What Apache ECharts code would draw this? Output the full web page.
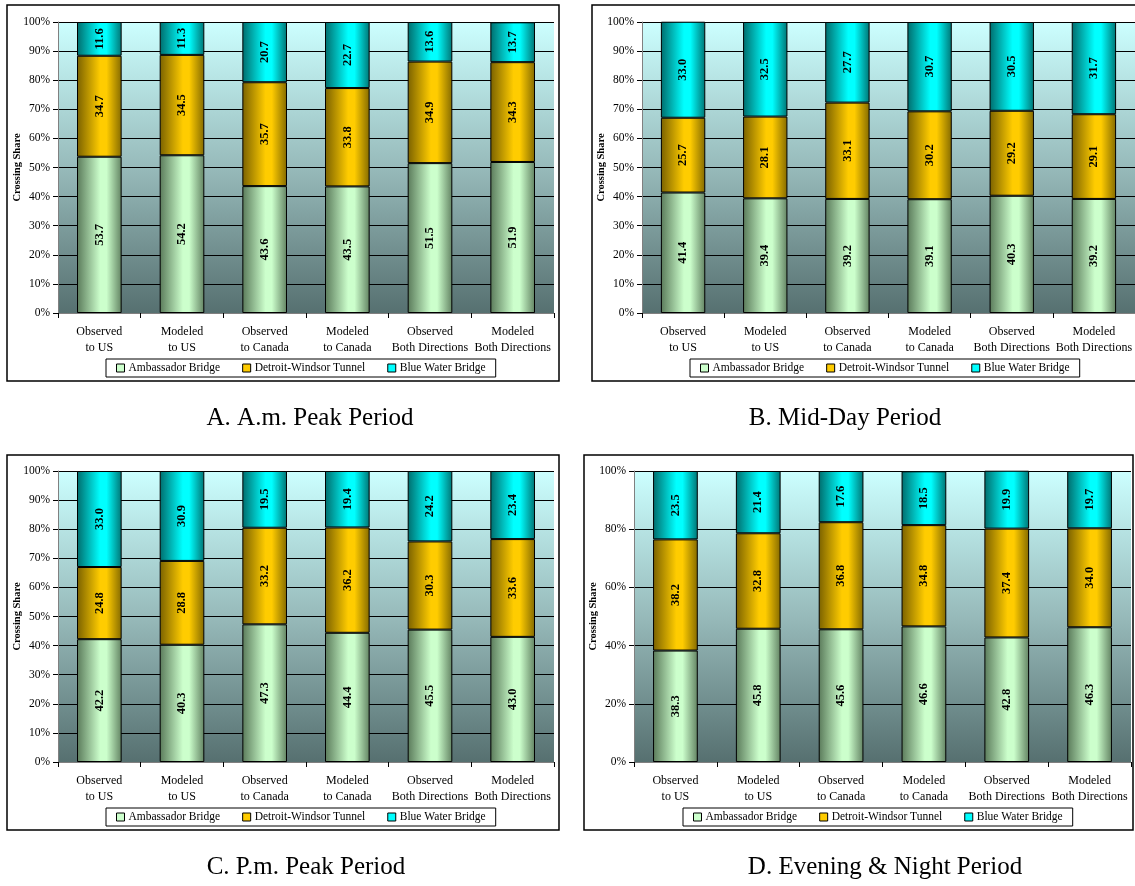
<!DOCTYPE html>
<html>
<head>
<meta charset="utf-8">
<script src="https://cdn.jsdelivr.net/npm/echarts@6/dist/echarts.min.js"></script>
<style>
html,body{margin:0;padding:0;background:#fff;}
#c{width:1135px;height:886px;}
</style>
</head>
<body>
<div id="c"></div>
<script>
var categories = ['Observed\nto US','Modeled\nto US','Observed\nto Canada','Modeled\nto Canada','Observed\nBoth Directions','Modeled\nBoth Directions'];
var seriesNames = ['Ambassador Bridge','Detroit-Windsor Tunnel','Blue Water Bridge'];
var panelTitles = ['A. A.m. Peak Period','B. Mid-Day Period','C. P.m. Peak Period','D. Evening & Night Period'];

var ambA = [53.7,54.2,43.6,43.5,51.5,51.9];
var dwtA = [34.7,34.5,35.7,33.8,34.9,34.3];
var bwbA = [11.6,11.3,20.7,22.7,13.6,13.7];

var ambB = [41.4,39.4,39.2,39.1,40.3,39.2];
var dwtB = [25.7,28.1,33.1,30.2,29.2,29.1];
var bwbB = [33.0,32.5,27.7,30.7,30.5,31.7];

var ambC = [42.2,40.3,47.3,44.4,45.5,43.0];
var dwtC = [24.8,28.8,33.2,36.2,30.3,33.6];
var bwbC = [33.0,30.9,19.5,19.4,24.2,23.4];

var ambD = [38.3,45.8,45.6,46.6,42.8,46.3];
var dwtD = [38.2,32.8,36.8,34.8,37.4,34.0];
var bwbD = [23.5,21.4,17.6,18.5,19.9,19.7];

var yIntervals = [10,10,10,20];

var panelData = [[ambA,dwtA,bwbA],[ambB,dwtB,bwbB],[ambC,dwtC,bwbC],[ambD,dwtD,bwbD]];

// layout
var grids = [
  {left:58, top:22, width:496, height:291},
  {left:642, top:22, width:497, height:291},
  {left:58, top:471, width:496, height:291},
  {left:634, top:471, width:497, height:291}
];
var borders = [
  {x:7,y:5,w:552,h:376},
  {x:592,y:5,w:560,h:376},
  {x:7,y:455,w:552,h:375},
  {x:584,y:455,w:549,h:375}
];
var legendPos = [
  {left:106, top:359},
  {left:690, top:359},
  {left:106, top:808},
  {left:683, top:808}
];
var captionPos = [
  {x:310,y:418},{x:845,y:418},{x:306,y:867},{x:885,y:867}
];

var SERIF = '"Liberation Serif","Times New Roman",serif';

function grad(dark, light, dark2){
  return new echarts.graphic.LinearGradient(0,0,1,0,[
    {offset:0,color:dark},{offset:0.52,color:light},{offset:0.66,color:light},{offset:1,color:dark2}
  ]);
}
var fills = [
  function(){return grad('#5a7a5a','#ccffcc','#628262');},
  function(){return grad('#7a6100','#ffcc00','#846a00');},
  function(){return grad('#006c6c','#00ffff','#007474');}
];
var legendColors = ['#ccffcc','#ffcc00','#00ffff'];

var option = {
  animation:false,
  backgroundColor:'#fff',
  grid:[], xAxis:[], yAxis:[], series:[], legend:[], graphic:[]
};

for (var p=0;p<4;p++){
  var g = grids[p];
  option.grid.push({left:g.left, top:g.top, width:g.width, height:g.height, show:true, borderWidth:0,
    backgroundColor:new echarts.graphic.LinearGradient(0,0,0,1,[{offset:0,color:'#ccffff'},{offset:0.5,color:'#97baba'},{offset:1,color:'#567070'}])});
  option.xAxis.push({type:'category', gridIndex:p, data:categories,
    axisLine:{lineStyle:{color:'#808080',width:1}},
    axisTick:{show:true,length:5,lineStyle:{color:'#000'}},
    axisLabel:{color:'#000',fontFamily:SERIF,fontSize:12,lineHeight:16,margin:11,interval:0}
  });
  option.yAxis.push({type:'value', gridIndex:p, min:0, max:100, interval:yIntervals[p],
    name:'Crossing Share', nameLocation:'middle', nameGap:35, nameRotate:90, nameMoveOverlap:false,
    nameTextStyle:{fontFamily:SERIF,fontSize:10.5,fontWeight:'bold',color:'#000'},
    axisLine:{show:true,lineStyle:{color:'#808080'}},
    axisTick:{show:true,length:5,lineStyle:{color:'#000'}},
    axisLabel:{formatter:'{value}%',color:'#000',fontFamily:SERIF,fontSize:11.5,margin:8},
    splitLine:{lineStyle:{color:'#000',width:1}}
  });
  for (var s=0;s<3;s++){
    option.series.push({
      type:'bar', name:seriesNames[s], xAxisIndex:p, yAxisIndex:p, stack:'st'+p,
      data:panelData[p][s], barWidth:'54%',
      itemStyle:{color:fills[s](), borderColor:'#000', borderWidth:1},
      label:{show:true, position:'inside', rotate:90, fontFamily:SERIF, fontSize:12.5, fontWeight:'bold', color:'#000',
        formatter:function(v){return v.value.toFixed(1);}}
    });
  }
  option.legend.push({
    left:legendPos[p].left, top:legendPos[p].top, orient:'horizontal',
    data:seriesNames.map(function(n,i){return {name:n, icon:'rect', itemStyle:{color:legendColors[i],borderColor:'#000',borderWidth:1}};}),
    itemWidth:8, itemHeight:8, itemGap:22, padding:[3,10,3,10],
    borderColor:'#000', borderWidth:1, backgroundColor:'#fff', borderRadius:0,
    textStyle:{fontFamily:SERIF,fontSize:11.5,color:'#000',padding:[0,0,0,-1]},
    selectedMode:false
  });
  var b = borders[p];
  option.graphic.push({type:'rect', shape:{x:b.x,y:b.y,width:b.w,height:b.h}, style:{fill:null,stroke:'#000',lineWidth:1.5}, z:-1, silent:true});
  option.graphic.push({type:'text', x:captionPos[p].x, y:captionPos[p].y,
    style:{text:panelTitles[p], font:'25px '+SERIF, fill:'#000', textAlign:'center', textVerticalAlign:'middle'}});
}

var chart = echarts.init(document.getElementById('c'));
chart.setOption(option);
</script>
</body>
</html>
